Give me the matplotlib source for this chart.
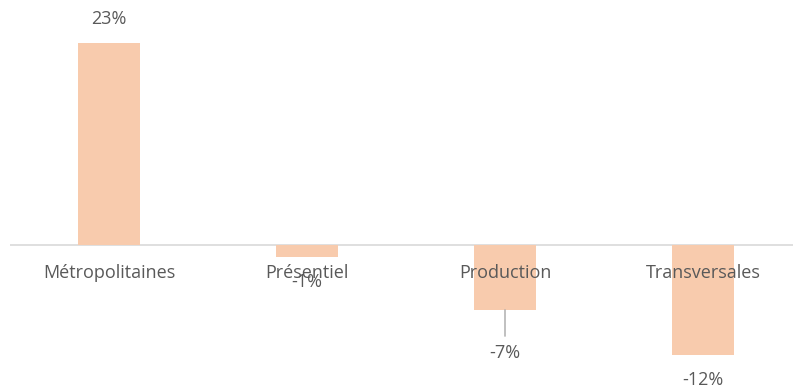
import matplotlib.pyplot as plt

# values (percent change)
categories = ["Métropolitaines", "Présentiel", "Production", "Transversales"]
values = [22.8, -1.4, -7.3, -12.4]
labels = ["23%", "-1%", "-7%", "-12%"]
# data label offset in points (the -7% label was pushed down with a leader line)
label_offsets = [17, -18, -31, -18]

bar_color = "#F8CBAD"
text_color = "#595959"

plt.rcParams['font.family'] = ['Open Sans', 'DejaVu Sans']

fig = plt.figure(figsize=(7.93, 3.87), dpi=100)
ax = fig.add_axes([10 / 793, 0, 792 / 793, 1])

x = range(len(categories))
ax.bar(x, values, width=0.31, color=bar_color, zorder=1)

ax.set_xlim(-0.5, 3.5)
ax.set_ylim(-16.0, 27.6)
ax.axhline(0, color="#D9D9D9", lw=1.2, zorder=0)

for s in ax.spines.values():
    s.set_visible(False)
ax.set_yticks([])
ax.set_xticks([])

for i, (v, lab, off) in enumerate(zip(values, labels, label_offsets)):
    ax.annotate(lab, (i, v), xytext=(0, off), textcoords="offset points",
                ha="center", va="center", fontsize=13, color=text_color, zorder=3)
    if i == 2:
        ax.annotate("", (i, v), xytext=(0, -19), textcoords="offset points",
                    arrowprops=dict(arrowstyle="-", color="#A6A6A6", lw=1,
                                    shrinkA=0, shrinkB=0))
    # category labels under the axis line
    ax.annotate(categories[i], (i, 0), xytext=(0, -20), textcoords="offset points",
                ha="center", va="center", fontsize=13, color=text_color, zorder=3)

fig.savefig("out.png", dpi=100)
